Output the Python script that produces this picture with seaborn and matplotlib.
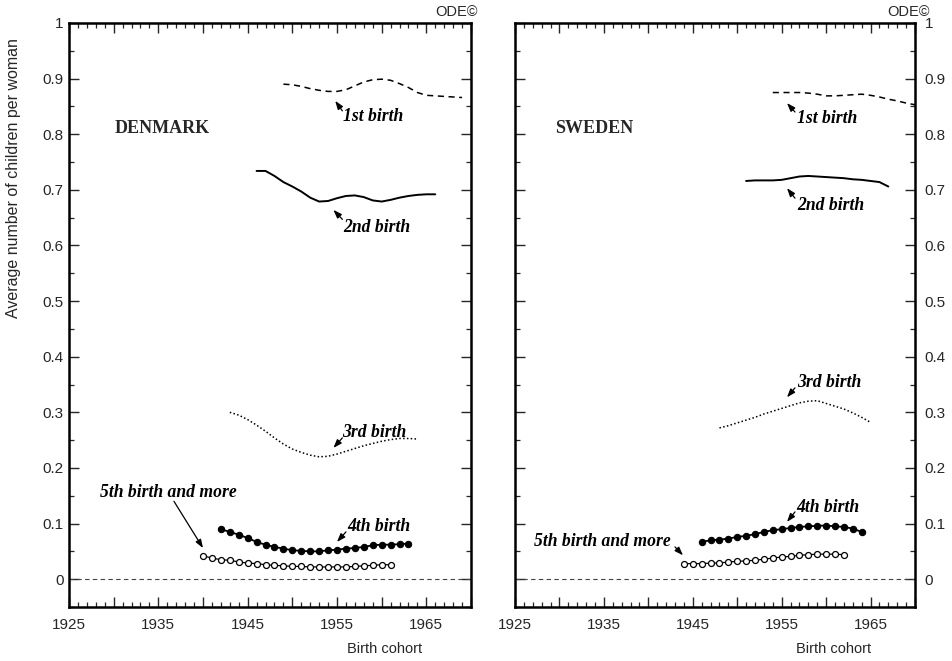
import numpy as np
import pandas as pd
import matplotlib
matplotlib.use("Agg")
import matplotlib.pyplot as plt
from matplotlib.ticker import MultipleLocator, FuncFormatter
import seaborn as sns

# ---------------- data ----------------
dk_1st_years = list(range(1949, 1970))
dk_1st = [0.890, 0.889, 0.886, 0.882, 0.879, 0.877, 0.877, 0.880, 0.887, 0.894,
          0.898, 0.899, 0.897, 0.891, 0.884, 0.875, 0.870, 0.869, 0.868, 0.867, 0.866]
dk_2nd_years = list(range(1946, 1967))
dk_2nd = [0.734, 0.734, 0.725, 0.714, 0.706, 0.697, 0.686, 0.679, 0.680, 0.685,
          0.689, 0.690, 0.687, 0.681, 0.679, 0.682, 0.686, 0.689, 0.691, 0.692, 0.692]
dk_3rd_years = list(range(1943, 1965))
dk_3rd = [0.300, 0.295, 0.287, 0.277, 0.266, 0.254, 0.243, 0.234, 0.228, 0.223,
          0.220, 0.221, 0.225, 0.230, 0.235, 0.240, 0.244, 0.248, 0.251, 0.253, 0.253, 0.252]
dk_4th_years = list(range(1942, 1964))
dk_4th = [0.090, 0.085, 0.080, 0.074, 0.067, 0.062, 0.058, 0.055, 0.052, 0.051,
          0.050, 0.050, 0.052, 0.053, 0.055, 0.056, 0.058, 0.061, 0.062, 0.062, 0.063, 0.064]
dk_5th_years = list(range(1940, 1962))
dk_5th = [0.042, 0.038, 0.035, 0.034, 0.031, 0.029, 0.028, 0.026, 0.025, 0.024,
          0.023, 0.023, 0.022, 0.022, 0.022, 0.022, 0.022, 0.023, 0.024, 0.025, 0.026, 0.026]

se_1st_years = list(range(1954, 1971))
se_1st = [0.875, 0.875, 0.875, 0.875, 0.874, 0.872, 0.869, 0.869, 0.870, 0.871,
          0.872, 0.870, 0.867, 0.863, 0.860, 0.856, 0.853]
se_2nd_years = list(range(1951, 1968))
se_2nd = [0.716, 0.717, 0.717, 0.717, 0.718, 0.721, 0.724, 0.725, 0.724, 0.723,
          0.722, 0.721, 0.719, 0.718, 0.716, 0.714, 0.706]
se_3rd_years = list(range(1948, 1966))
se_3rd = [0.272, 0.276, 0.281, 0.286, 0.291, 0.297, 0.302, 0.307, 0.312, 0.317,
          0.320, 0.321, 0.316, 0.311, 0.306, 0.299, 0.291, 0.282]
se_4th_years = list(range(1946, 1965))
se_4th = [0.067, 0.070, 0.071, 0.073, 0.076, 0.078, 0.081, 0.085, 0.088, 0.090,
          0.092, 0.094, 0.095, 0.096, 0.0965, 0.095, 0.094, 0.091, 0.085]
se_5th_years = list(range(1944, 1963))
se_5th = [0.028, 0.028, 0.028, 0.029, 0.029, 0.031, 0.032, 0.033, 0.034, 0.036,
          0.038, 0.040, 0.041, 0.043, 0.044, 0.045, 0.045, 0.045, 0.044]

birth_labels = ["1st birth", "2nd birth", "3rd birth", "4th birth", "5th birth and more"]
countries = ["DENMARK", "SWEDEN"]
x_ticklabels = ["1925", "1935", "1945", "1955", "1965"]

# ---------------- style ----------------
sns.set_style("white")
plt.rcParams['font.family'] = ['Liberation Sans', 'DejaVu Sans']

fig = plt.figure(figsize=(9.52, 6.61), dpi=100)
ax_dk = fig.add_axes([69/952, 54/661, 402/952, 584/661])
ax_se = fig.add_axes([515/952, 54/661, 400/952, 584/661])

serif_bi = dict(family=['Liberation Serif', 'DejaVu Serif'], style='italic',
                weight='bold', fontsize=12.7, color='black')
arrow_kw = dict(arrowstyle='-|>,head_length=0.5,head_width=0.18', color='black',
                lw=0.9, shrinkA=0, shrinkB=0)

def draw_series(ax, years, vals, **kw):
    df = pd.DataFrame({"year": years, "value": vals})
    sns.lineplot(data=df, x="year", y="value", ax=ax, color='black',
                 estimator=None, sort=True, **kw)

def style_axes(ax, right_labels):
    ax.set_xlim(1925, 1970)
    ax.set_ylim(-0.05, 1.0)
    ax.axhline(0, color='#444444', lw=0.8, ls=(0, (4, 3)))
    for s in ax.spines.values():
        s.set_linewidth(1.8)
        s.set_color('black')
    ax.xaxis.set_major_locator(MultipleLocator(5))
    ax.xaxis.set_minor_locator(MultipleLocator(1))
    ax.xaxis.set_major_formatter(FuncFormatter(
        lambda v, p: str(int(round(v))) if str(int(round(v))) in x_ticklabels else ""))
    ax.yaxis.set_major_locator(MultipleLocator(0.1))
    ax.yaxis.set_minor_locator(MultipleLocator(0.05))
    ax.yaxis.set_major_formatter(FuncFormatter(
        lambda v, p: "" if v < -0.01 else ("0" if abs(v) < 1e-9 else ("1" if abs(v - 1) < 1e-9 else f"{v:.1f}"))))
    ax.tick_params(axis='both', which='major', direction='in', length=7, width=1.0,
                   top=True, right=True, bottom=True, left=True, labelsize=11)
    ax.tick_params(axis='both', which='minor', direction='in', length=3.5, width=0.9,
                   top=True, right=True, bottom=True, left=True)
    ax.tick_params(axis='x', which='major', pad=8)
    if right_labels:
        ax.tick_params(axis='y', which='major', labelleft=False, labelright=True, pad=7)
    else:
        ax.tick_params(axis='y', which='major', labelleft=True, labelright=False, pad=4)
    ax.set_xlabel("")
    ax.set_ylabel("")

# Denmark
draw_series(ax_dk, dk_1st_years, dk_1st, linestyle=(0, (4, 3)), linewidth=1.1)
draw_series(ax_dk, dk_2nd_years, dk_2nd, linestyle='-', linewidth=1.4)
draw_series(ax_dk, dk_3rd_years, dk_3rd, linestyle=(0, (1, 1.5)), linewidth=1.1)
draw_series(ax_dk, dk_4th_years, dk_4th, linestyle='-', linewidth=1.3, marker='o',
            markersize=4.6, markerfacecolor='black', markeredgecolor='black')
draw_series(ax_dk, dk_5th_years, dk_5th, linestyle='-', linewidth=0.9, marker='o',
            markersize=4.3, markerfacecolor='white', markeredgecolor='black', markeredgewidth=0.9)

# Sweden
draw_series(ax_se, se_1st_years, se_1st, linestyle=(0, (4, 3)), linewidth=1.1)
draw_series(ax_se, se_2nd_years, se_2nd, linestyle='-', linewidth=1.4)
draw_series(ax_se, se_3rd_years, se_3rd, linestyle=(0, (1, 1.5)), linewidth=1.1)
draw_series(ax_se, se_4th_years, se_4th, linestyle='-', linewidth=1.3, marker='o',
            markersize=4.6, markerfacecolor='black', markeredgecolor='black')
draw_series(ax_se, se_5th_years, se_5th, linestyle='-', linewidth=0.9, marker='o',
            markersize=4.3, markerfacecolor='white', markeredgecolor='black', markeredgewidth=0.9)

style_axes(ax_dk, right_labels=False)
style_axes(ax_se, right_labels=True)

# Country names
for ax, name, xpos in [(ax_dk, countries[0], 1930.1), (ax_se, countries[1], 1929.5)]:
    ax.text(xpos, 0.811, name, family=['Liberation Serif', 'DejaVu Serif'],
            weight='bold', fontsize=13, ha='left', va='center')

# Annotations: (text_x, text_y, tail_x, tail_y, head_x, head_y)
dk_ann = [
    (1955.7, 0.831, 1955.6, 0.842, 1954.8, 0.860),
    (1955.7, 0.633, 1955.6, 0.647, 1954.6, 0.664),
    (1955.6, 0.263, 1955.6, 0.254, 1954.6, 0.236),
    (1956.1, 0.094, 1956.0, 0.085, 1955.0, 0.067),
    (1928.5, 0.155, 1936.75, 0.140, 1940.0, 0.056),
]
se_ann = [
    (1956.7, 0.829, 1956.5, 0.840, 1955.6, 0.856),
    (1956.7, 0.671, 1956.5, 0.685, 1955.6, 0.703),
    (1956.7, 0.353, 1956.5, 0.344, 1955.6, 0.327),
    (1956.7, 0.129, 1956.5, 0.121, 1955.6, 0.103),
    (1927.1, 0.067, 1943.0, 0.058, 1943.9, 0.043),
]
for ax, anns in [(ax_dk, dk_ann), (ax_se, se_ann)]:
    for lab, (tx, ty, ax0, ay0, hx, hy) in zip(birth_labels, anns):
        ax.text(tx, ty, lab, ha='left', va='center', **serif_bi)
        ax.annotate('', xy=(hx, hy), xytext=(ax0, ay0), arrowprops=arrow_kw)

# x labels
ax_dk.text(0.786, -0.072, "Birth cohort", transform=ax_dk.transAxes,
           ha='center', va='center', fontsize=10.5)
ax_se.text(0.7975, -0.072, "Birth cohort", transform=ax_se.transAxes,
           ha='center', va='center', fontsize=10.5)

# y label
fig.text(14/952, 1 - 178/661, "Average number of children per woman", rotation=90,
         ha='center', va='center', fontsize=11.5)

# ODE marks
fig.text(478/952, 1 - 12/661, "ODE©", ha='right', va='center', fontsize=10.5)
fig.text(930/952, 1 - 12/661, "ODE©", ha='right', va='center', fontsize=10.5)

fig.savefig("out.png", dpi=100)
